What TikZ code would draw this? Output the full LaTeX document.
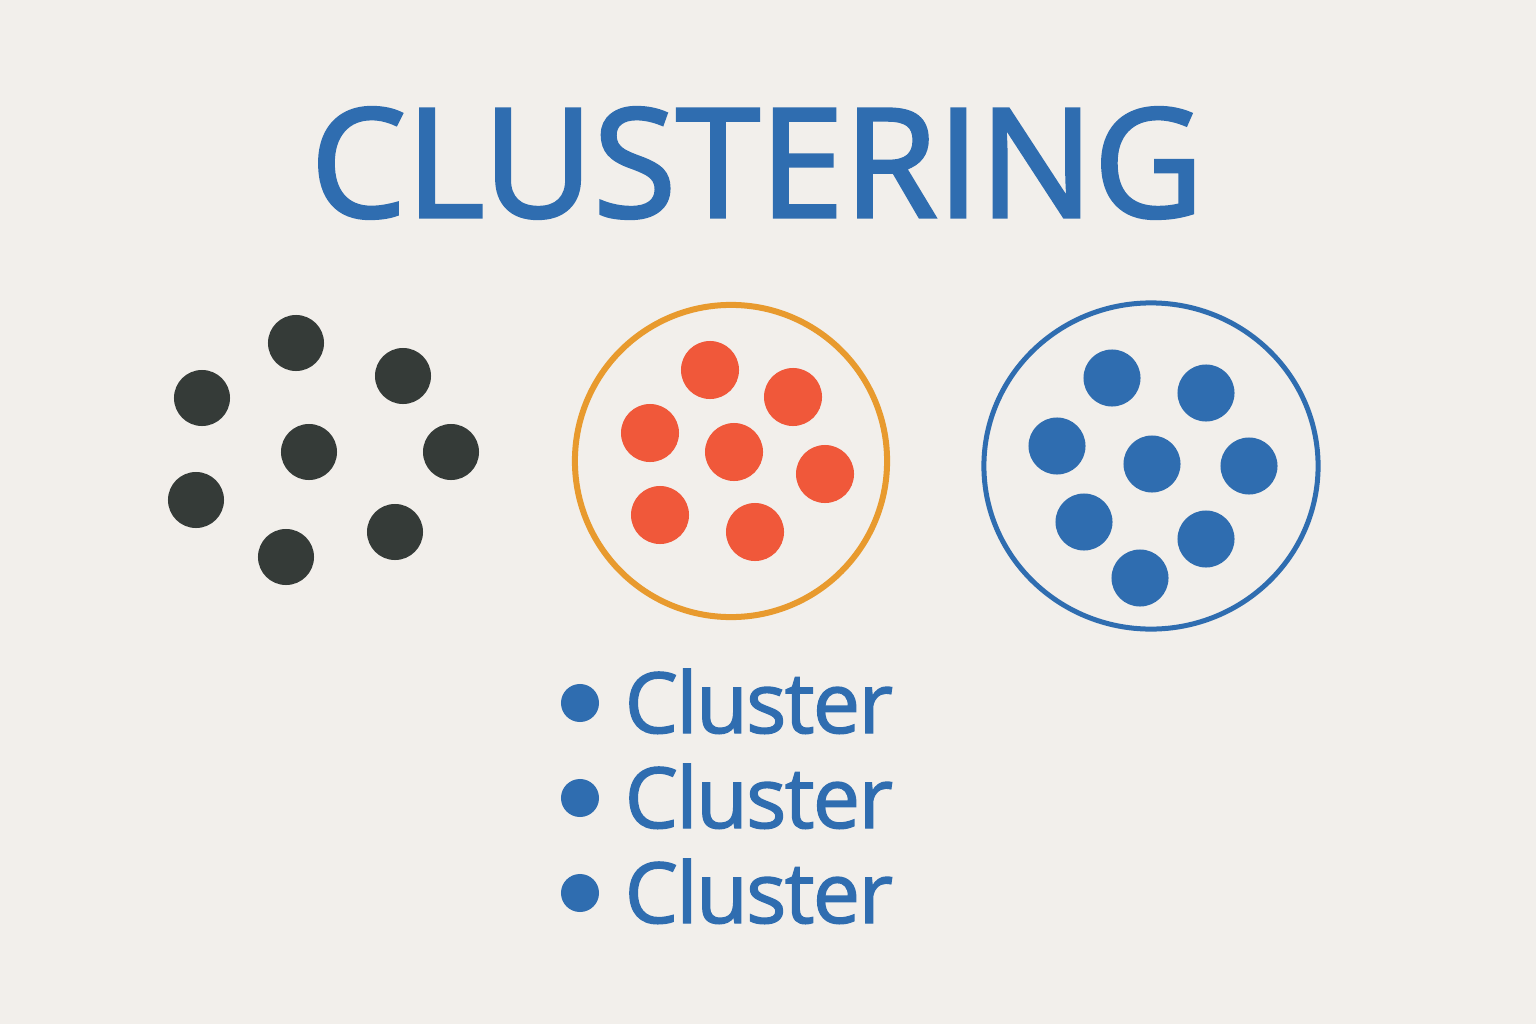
\documentclass[tikz,border=0pt]{standalone}
\usepackage{fontspec}
\setmainfont{Open Sans}
\usetikzlibrary{shapes.geometric}
\definecolor{bg}{HTML}{F2EFEB}
\definecolor{cblue}{HTML}{2F6DB0}
\definecolor{cgray}{HTML}{353B38}
\definecolor{cred}{HTML}{F0583A}
\definecolor{corange}{HTML}{E89A2E}

\begin{document}
\begin{tikzpicture}[x=0.01cm,y=-0.01cm]
\tikzstyle{every node}=[minimum width=0pt, inner sep=0pt, circle]
\tikzstyle{gdot}=[fill=cgray, minimum size=0.56cm]
\tikzstyle{rdot}=[fill=cred, minimum size=0.58cm]
\tikzstyle{bdot}=[fill=cblue, minimum size=0.57cm]
\tikzstyle{item}=[rectangle, anchor=base west, text=cblue, font=\fontsize{24}{28}\selectfont\addfontfeatures{LetterSpace=-2,FakeBold=1.6}]
\fill[bg] (0,0) rectangle (1536,1024);
\useasboundingbox (0,0) rectangle (1536,1024);
% title
\draw (757,163) node (title) [rectangle, text=cblue, font=\fontsize{43}{50}\selectfont\addfontfeatures{LetterSpace=0,FakeBold=2.2}] {CLUSTERING};
% unclustered points
\draw (296,343) node (g1) [gdot] {};
\draw (202,398) node (g2) [gdot] {};
\draw (403,376) node (g3) [gdot] {};
\draw (309,452) node (g4) [gdot] {};
\draw (451,452) node (g5) [gdot] {};
\draw (196,500) node (g6) [gdot] {};
\draw (395,532) node (g7) [gdot] {};
\draw (286,557) node (g8) [gdot] {};
% orange cluster
\draw (731,461) node (oc) [draw=corange, line width=0.06cm, minimum size=3.12cm] {};
\draw (710,370) node (r1) [rdot] {};
\draw (793,397) node (r2) [rdot] {};
\draw (650,433) node (r3) [rdot] {};
\draw (734,452) node (r4) [rdot] {};
\draw (825,474) node (r5) [rdot] {};
\draw (660,515) node (r6) [rdot] {};
\draw (755,532) node (r7) [rdot] {};
% blue cluster
\draw (1151,466) node (bc) [ellipse, draw=cblue, line width=0.05cm, minimum width=3.34cm, minimum height=3.26cm] {};
\draw (1112,378) node (b1) [bdot] {};
\draw (1206,393) node (b2) [bdot] {};
\draw (1057,446) node (b3) [bdot] {};
\draw (1152,464) node (b4) [bdot] {};
\draw (1249,466) node (b5) [bdot] {};
\draw (1084,522) node (b6) [bdot] {};
\draw (1206,539) node (b7) [bdot] {};
\draw (1140,578) node (b8) [bdot] {};
% legend
\draw (580,703) node (l1) [fill=cblue, minimum size=0.38cm] {};
\draw (580,798) node (l2) [fill=cblue, minimum size=0.38cm] {};
\draw (580,893) node (l3) [fill=cblue, minimum size=0.38cm] {};
\draw (624,733) node (t1) [item] {Cluster};
\draw (624,828) node (t2) [item] {Cluster};
\draw (624,923) node (t3) [item] {Cluster};
\end{tikzpicture}
\end{document}
